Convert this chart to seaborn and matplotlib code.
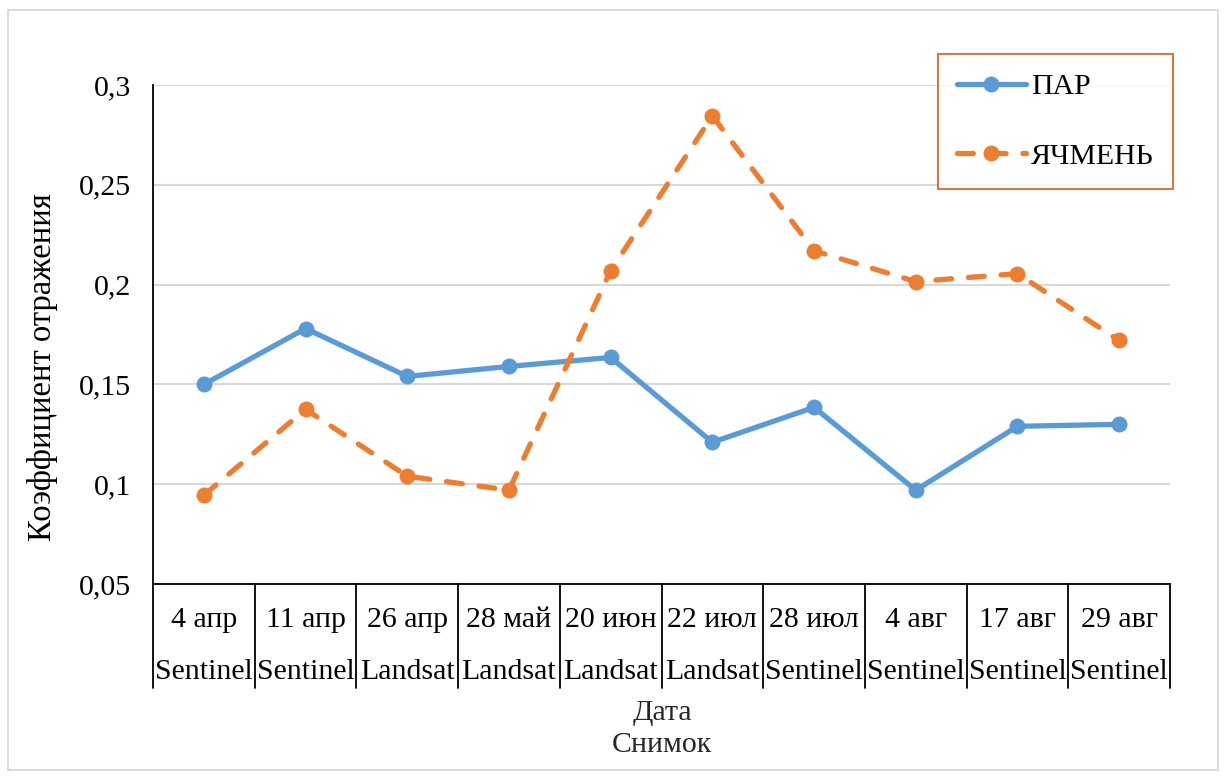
import numpy as np
import pandas as pd
import matplotlib
matplotlib.use('Agg')
import matplotlib.pyplot as plt
import matplotlib.transforms as mtransforms
from matplotlib.patches import Rectangle
import seaborn as sns

# Data
dates = ['4 апр', '11 апр', '26 апр', '28 май', '20 июн',
         '22 июл', '28 июл', '4 авг', '17 авг', '29 авг']
sensors = ['Sentinel', 'Sentinel', 'Landsat', 'Landsat', 'Landsat',
           'Landsat', 'Sentinel', 'Sentinel', 'Sentinel', 'Sentinel']
par = [0.150, 0.178, 0.154, 0.159, 0.1635, 0.121, 0.1385, 0.097, 0.129, 0.130]
barley = [0.0945, 0.1375, 0.104, 0.097, 0.207, 0.2845, 0.217, 0.2015, 0.2055, 0.172]
series_names = ['ПАР', 'ЯЧМЕНЬ']
yticks = [0.05, 0.1, 0.15, 0.2, 0.25, 0.3]
ytick_labels = ['0,05', '0,1', '0,15', '0,2', '0,25', '0,3']

df = pd.DataFrame({
    'pos': list(range(len(dates))) * 2,
    'value': par + barley,
    'series': [series_names[0]] * len(dates) + [series_names[1]] * len(dates),
})

sns.set_theme(style='white')
plt.rcParams['font.family'] = ['Liberation Serif', 'DejaVu Serif']
fs = 21.5

fig = plt.figure(figsize=(12.26, 7.76), dpi=100)
ax = fig.add_axes([153 / 1226, 1 - 584 / 776, (1170 - 153) / 1226, (584 - 85) / 776])

sns.lineplot(data=df, x='pos', y='value', hue='series', style='series',
             palette={'ПАР': '#5B9BD5', 'ЯЧМЕНЬ': '#ED7D31'},
             dashes={'ПАР': '', 'ЯЧМЕНЬ': (3.0, 3.2)},
             markers={'ПАР': 'o', 'ЯЧМЕНЬ': 'o'},
             markersize=11.5, markeredgewidth=0, linewidth=3.8,
             dash_capstyle='round', solid_capstyle='round',
             ax=ax, zorder=3)

ax.set_xlim(-0.5, len(dates) - 0.5)
ax.set_ylim(0.05, 0.3)
ax.set_yticks(yticks)
ax.set_yticklabels(ytick_labels, fontsize=fs, color='black')
ax.tick_params(axis='y', length=0, pad=16)
ax.set_xticks([])
ax.set_xlabel('')
ax.set_ylabel('Коэффициент отражения', fontsize=23.5, color='black')
ax.yaxis.set_label_coords(-0.093, 0.435)
ax.grid(axis='y', color='#D9D9D9', linewidth=1.5, zorder=0)
for s in ['top', 'right']:
    ax.spines[s].set_visible(False)
ax.spines['left'].set_color('black')
ax.spines['left'].set_linewidth(1.3)
ax.spines['bottom'].set_color('black')
ax.spines['bottom'].set_linewidth(1.3)

# multi-level category axis
trans = mtransforms.blended_transform_factory(ax.transData, ax.transAxes)
h_ax = (584 - 85)
row1 = -(620 - 584) / h_ax
row2 = -(672 - 584) / h_ax
bottom = -(688 - 584) / h_ax
for i, (d, s) in enumerate(zip(dates, sensors)):
    ax.text(i, row1, d, transform=trans, ha='center', va='center', fontsize=fs, color='black')
    ax.text(i, row2, s, transform=trans, ha='center', va='center', fontsize=fs, color='black')
for b in np.arange(-0.5, len(dates), 1.0):
    ax.plot([b, b], [0, bottom], transform=trans, color='black', linewidth=1.3, clip_on=False)

fig.text(662 / 1226, 1 - 713 / 776, 'Дата', ha='center', va='center', fontsize=fs)
fig.text(662 / 1226, 1 - 745 / 776, 'Снимок', ha='center', va='center', fontsize=fs)

leg = ax.legend(loc='upper right', bbox_to_anchor=(1173 / 1226, 1 - 54 / 776),
                bbox_transform=fig.transFigure, fontsize=fs, frameon=True,
                fancybox=False, handlelength=2.3, labelspacing=1.42,
                borderpad=0.65, handletextpad=0.17, borderaxespad=0)
leg.get_frame().set_edgecolor('#C55A11')
leg.get_frame().set_linewidth(1.5)
for t in leg.get_texts():
    t.set_color('black')

fig.patches.append(Rectangle((8 / 1226, 6 / 776), 1210 / 1226, 760 / 776,
                             transform=fig.transFigure, fill=False,
                             edgecolor='#D9D9D9', linewidth=1.3))

fig.savefig('out.png', dpi=100, facecolor='white')
